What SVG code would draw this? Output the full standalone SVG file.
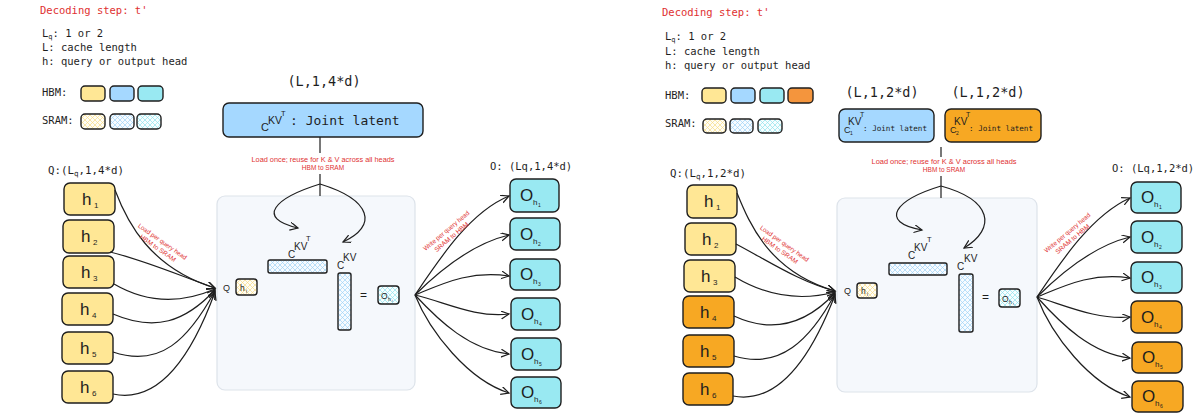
<svg xmlns="http://www.w3.org/2000/svg" width="1200" height="416" viewBox="0 0 1200 416">
<style>
.mono{font-family:"DejaVu Sans Mono","Liberation Mono",monospace;fill:#1e1e1e}
.red{fill:#e03131}
.hand{font-family:"Liberation Sans",Arial,sans-serif;fill:#e03131;font-size:6.5px}
.lbl{font-family:"Liberation Sans",Arial,sans-serif;fill:#1e1e1e}
.node{stroke:#1e1e1e;stroke-width:1.4}
.yel{fill:#ffe795}
.org{fill:#f7a823}
.blu{fill:#a5d8ff}
.cya{fill:#99e9f2}
.conn path{fill:none;stroke:#1e1e1e;stroke-width:1.2}
.cont{fill:#f5f8fc;stroke:#dde3ea;stroke-width:1.2}
</style>
<defs>
<pattern id="hY" patternUnits="userSpaceOnUse" width="5" height="5"><rect width="5" height="5" fill="#fffdf5"/><path d="M0,0L5,5M5,0L0,5" stroke="#f6dc86" stroke-width="0.7"/></pattern>
<pattern id="hB" patternUnits="userSpaceOnUse" width="5" height="5"><rect width="5" height="5" fill="#f7fbff"/><path d="M0,0L5,5M5,0L0,5" stroke="#9ed2f7" stroke-width="0.7"/></pattern>
<pattern id="hC" patternUnits="userSpaceOnUse" width="5" height="5"><rect width="5" height="5" fill="#f7feff"/><path d="M0,0L5,5M5,0L0,5" stroke="#8fe3ec" stroke-width="0.7"/></pattern>
<marker id="arr" markerUnits="userSpaceOnUse" markerWidth="12" markerHeight="12" refX="8" refY="4" orient="auto"><path d="M0,0L8,4L0,8" fill="none" stroke="#1e1e1e" stroke-width="1.2"/></marker>
</defs>
<rect width="1200" height="416" fill="#ffffff"/>

<!-- ============ LEFT PANEL ============ -->
<g id="left-legend">
<text class="mono red" x="40" y="14" font-size="10.5">Decoding step: t'</text>
<text class="mono" x="42" y="37" font-size="10.5">L<tspan font-size="7" dy="2">q</tspan><tspan dy="-2">: 1 or 2</tspan></text>
<text class="mono" x="42" y="51" font-size="10.5">L: cache length</text>
<text class="mono" x="42" y="65" font-size="10.5">h: query or output head</text>
<text class="mono" x="42" y="96" font-size="10.5">HBM:</text>
<text class="mono" x="42" y="124" font-size="10.5">SRAM:</text>
<rect class="node yel" x="81" y="86" width="24" height="15" rx="4"/>
<rect class="node blu" x="110" y="86" width="24" height="15" rx="4"/>
<rect class="node cya" x="138" y="86" width="25" height="15" rx="4"/>
<rect class="node" fill="url(#hY)" x="81" y="114" width="24" height="15" rx="4"/>
<rect class="node" fill="url(#hB)" x="110" y="114" width="24" height="15" rx="4"/>
<rect class="node" fill="url(#hC)" x="137" y="114" width="24" height="15" rx="4"/>
</g>

<g id="left-latent">
<text class="mono" x="324" y="86" font-size="13.5" text-anchor="middle">(L,1,4*d)</text>
<rect class="node blu" x="223" y="103" width="200" height="34" rx="6"/>
<text class="lbl" x="261" y="131" font-size="11">C</text>
<text class="lbl" x="268" y="124" font-size="10.5">KV</text>
<text class="lbl" x="281" y="116" font-size="7.5">T</text>
<text class="mono" x="290" y="125" font-size="13">: Joint latent</text>
</g>

<g id="left-Q-label"><text class="mono" x="48" y="174" font-size="10.8">Q:(L<tspan font-size="7.5" dy="2">q</tspan><tspan dy="-2">,1,4*d)</tspan></text></g>
<g id="left-h1"><rect class="node yel" x="64" y="183" width="51" height="32" rx="6"/><text class="lbl" x="82" y="205" font-size="17">h</text><text class="lbl" x="94" y="208" font-size="8">1</text></g>
<g id="left-h2"><rect class="node yel" x="63" y="220" width="51" height="33" rx="6"/><text class="lbl" x="81" y="242" font-size="17">h</text><text class="lbl" x="93" y="245" font-size="8">2</text></g>
<g id="left-h3"><rect class="node yel" x="63" y="256" width="51" height="32" rx="6"/><text class="lbl" x="81" y="278" font-size="17">h</text><text class="lbl" x="93" y="281" font-size="8">3</text></g>
<g id="left-h4"><rect class="node yel" x="62" y="293" width="51" height="32" rx="6"/><text class="lbl" x="80" y="315" font-size="17">h</text><text class="lbl" x="92" y="318" font-size="8">4</text></g>
<g id="left-h5"><rect class="node yel" x="62" y="332" width="51" height="32" rx="6"/><text class="lbl" x="80" y="354" font-size="17">h</text><text class="lbl" x="92" y="357" font-size="8">5</text></g>
<g id="left-h6"><rect class="node yel" x="62" y="371" width="51" height="32" rx="6"/><text class="lbl" x="80" y="393" font-size="17">h</text><text class="lbl" x="92" y="396" font-size="8">6</text></g>

<g id="left-sram">
<rect class="cont" x="217" y="196" width="198" height="194" rx="8"/>
<text class="lbl" x="288" y="258" font-size="10">C</text>
<text class="lbl" x="294" y="250" font-size="10">KV</text>
<text class="lbl" x="306" y="241" font-size="7.5">T</text>
<rect class="node" fill="url(#hB)" x="268" y="260" width="59" height="13" rx="2"/>
<text class="lbl" x="337" y="269" font-size="10">C</text>
<text class="lbl" x="343" y="261" font-size="10">KV</text>
<rect class="node" fill="url(#hB)" x="338" y="273" width="13" height="57" rx="2"/>
<text class="lbl" x="223" y="291" font-size="9">Q</text>
<rect class="node" fill="url(#hY)" x="236" y="279" width="21" height="16" rx="3"/>
<text class="lbl" x="240" y="291" font-size="8.5">h</text><text class="lbl" x="246" y="293" font-size="5">i</text>
<text class="lbl" x="360" y="299" font-size="12">=</text>
<rect class="node" fill="url(#hC)" x="378" y="286" width="21" height="18" rx="3"/>
<text class="lbl" x="381" y="299" font-size="8.5">O</text><text class="lbl" x="388" y="301" font-size="5">h</text><text class="lbl" x="392" y="302" font-size="3.5">i</text>
</g>

<g id="left-O-label"><text class="mono" x="490" y="170" font-size="10.5">O: (Lq,1,4*d)</text></g>
<g id="left-o1"><rect class="node cya" x="510" y="179" width="49" height="33" rx="6"/><text class="lbl" x="520" y="201" font-size="17">O</text><text class="lbl" x="533" y="205" font-size="8">h</text><text class="lbl" x="538" y="207" font-size="5">1</text></g>
<g id="left-o2"><rect class="node cya" x="510" y="218" width="50" height="32" rx="6"/><text class="lbl" x="520" y="240" font-size="17">O</text><text class="lbl" x="533" y="244" font-size="8">h</text><text class="lbl" x="538" y="246" font-size="5">2</text></g>
<g id="left-o3"><rect class="node cya" x="510" y="259" width="50" height="31" rx="6"/><text class="lbl" x="520" y="280" font-size="17">O</text><text class="lbl" x="533" y="284" font-size="8">h</text><text class="lbl" x="538" y="286" font-size="5">3</text></g>
<g id="left-o4"><rect class="node cya" x="511" y="298" width="49" height="32" rx="6"/><text class="lbl" x="521" y="320" font-size="17">O</text><text class="lbl" x="534" y="324" font-size="8">h</text><text class="lbl" x="539" y="326" font-size="5">4</text></g>
<g id="left-o5"><rect class="node cya" x="511" y="338" width="50" height="32" rx="6"/><text class="lbl" x="521" y="360" font-size="17">O</text><text class="lbl" x="534" y="364" font-size="8">h</text><text class="lbl" x="539" y="366" font-size="5">5</text></g>
<g id="left-o6"><rect class="node cya" x="511" y="377" width="50" height="31" rx="6"/><text class="lbl" x="521" y="398" font-size="17">O</text><text class="lbl" x="534" y="402" font-size="8">h</text><text class="lbl" x="539" y="404" font-size="5">6</text></g>

<g id="left-connectors" class="conn">
<path d="M320,137L320,153"/>
<path d="M320,174L320,196"/>
<path d="M320,184C275,198 255,218 298,228" marker-end="url(#arr)"/>
<path d="M320,184C372,200 378,226 343,242" marker-end="url(#arr)"/>
<path d="M115,190C127,222 150,268 215,288" marker-end="url(#arr)"/>
<path d="M110,252C150,262 180,276 215,288" marker-end="url(#arr)"/>
<path d="M114,284C150,305 185,302 215,289" marker-end="url(#arr)"/>
<path d="M113,314C155,332 185,322 215,290" marker-end="url(#arr)"/>
<path d="M113,352C160,368 188,340 215,291" marker-end="url(#arr)"/>
<path d="M113,394C160,404 192,355 215,292" marker-end="url(#arr)"/>
<path d="M415,295C440,258 470,212 509,196" marker-end="url(#arr)"/>
<path d="M415,295C445,265 475,243 509,235" marker-end="url(#arr)"/>
<path d="M415,295C442,284 470,270 509,276" marker-end="url(#arr)"/>
<path d="M415,295C445,302 475,318 509,314" marker-end="url(#arr)"/>
<path d="M415,295C440,322 470,350 509,354" marker-end="url(#arr)"/>
<path d="M415,295C430,332 468,380 509,393" marker-end="url(#arr)"/>
</g>
<g id="left-annotations">
<text class="hand" x="323" y="162" text-anchor="middle" textLength="143" lengthAdjust="spacingAndGlyphs">Load once; reuse for K &amp; V across all heads</text>
<text class="hand" x="323" y="170" text-anchor="middle">HBM to SRAM</text>
<g transform="translate(160,245) rotate(35)"><text class="hand" x="0" y="-2" text-anchor="middle" textLength="58" lengthAdjust="spacingAndGlyphs">Load per query head</text><text class="hand" x="0" y="6" text-anchor="middle">HBM to SRAM</text></g>
<g transform="translate(449,234) rotate(-40)"><text class="hand" x="0" y="-2" text-anchor="middle" textLength="58" lengthAdjust="spacingAndGlyphs">Write per query head</text><text class="hand" x="0" y="6" text-anchor="middle">SRAM to HBM</text></g>
</g>

<!-- ============ RIGHT PANEL ============ -->
<g id="right-legend">
<text class="mono red" x="662" y="16" font-size="10.5">Decoding step: t'</text>
<text class="mono" x="665" y="40" font-size="10.5">L<tspan font-size="7" dy="2">q</tspan><tspan dy="-2">: 1 or 2</tspan></text>
<text class="mono" x="665" y="55" font-size="10.5">L: cache length</text>
<text class="mono" x="665" y="69" font-size="10.5">h: query or output head</text>
<text class="mono" x="665" y="99" font-size="10.5">HBM:</text>
<text class="mono" x="665" y="127" font-size="10.5">SRAM:</text>
<rect class="node yel" x="702" y="88" width="24" height="15" rx="4"/>
<rect class="node blu" x="731" y="88" width="24" height="15" rx="4"/>
<rect class="node cya" x="760" y="88" width="24" height="15" rx="4"/>
<rect class="node" fill="#f4953d" x="788" y="88" width="25" height="15" rx="4"/>
<rect class="node" fill="url(#hY)" x="703" y="119" width="23" height="14" rx="4"/>
<rect class="node" fill="url(#hB)" x="730" y="119" width="23" height="14" rx="4"/>
<rect class="node" fill="url(#hC)" x="758" y="119" width="24" height="14" rx="4"/>
</g>

<g id="right-latent1">
<text class="mono" x="882" y="97" font-size="13.5" text-anchor="middle">(L,1,2*d)</text>
<rect class="node blu" x="839" y="109" width="95" height="33" rx="6"/>
<text class="lbl" x="844" y="133" font-size="9">C</text><text class="lbl" x="850" y="135" font-size="5">1</text>
<text class="lbl" x="848" y="125" font-size="10">KV</text>
<text class="lbl" x="860" y="117" font-size="7">T</text>
<text class="mono" x="863" y="131" font-size="7.6">: Joint latent</text>
</g>
<g id="right-latent2">
<text class="mono" x="988" y="97" font-size="13.5" text-anchor="middle">(L,1,2*d)</text>
<rect class="node org" x="945" y="109" width="96" height="33" rx="6"/>
<text class="lbl" x="950" y="133" font-size="9">C</text><text class="lbl" x="956" y="135" font-size="5">2</text>
<text class="lbl" x="954" y="125" font-size="10">KV</text>
<text class="lbl" x="966" y="117" font-size="7">T</text>
<text class="mono" x="969" y="131" font-size="7.6">: Joint latent</text>
</g>

<g id="right-Q-label"><text class="mono" x="670" y="177" font-size="10.8">Q:(L<tspan font-size="7.5" dy="2">q</tspan><tspan dy="-2">,1,2*d)</tspan></text></g>
<g id="right-h1"><rect class="node yel" x="687" y="185" width="50" height="33" rx="6"/><text class="lbl" x="704" y="207" font-size="17">h</text><text class="lbl" x="716" y="210" font-size="8">1</text></g>
<g id="right-h2"><rect class="node yel" x="685" y="223" width="51" height="32" rx="6"/><text class="lbl" x="702" y="245" font-size="17">h</text><text class="lbl" x="714" y="248" font-size="8">2</text></g>
<g id="right-h3"><rect class="node yel" x="684" y="260" width="51" height="32" rx="6"/><text class="lbl" x="701" y="282" font-size="17">h</text><text class="lbl" x="713" y="285" font-size="8">3</text></g>
<g id="right-h4"><rect class="node org" x="683" y="296" width="51" height="32" rx="6"/><text class="lbl" x="700" y="318" font-size="17">h</text><text class="lbl" x="712" y="321" font-size="8">4</text></g>
<g id="right-h5"><rect class="node org" x="683" y="335" width="51" height="32" rx="6"/><text class="lbl" x="700" y="357" font-size="17">h</text><text class="lbl" x="712" y="360" font-size="8">5</text></g>
<g id="right-h6"><rect class="node org" x="683" y="373" width="50" height="32" rx="6"/><text class="lbl" x="700" y="395" font-size="17">h</text><text class="lbl" x="712" y="398" font-size="8">6</text></g>

<g id="right-sram">
<rect class="cont" x="837" y="198" width="200" height="194" rx="8"/>
<text class="lbl" x="908" y="259" font-size="10">C</text>
<text class="lbl" x="914" y="251" font-size="10">KV</text>
<text class="lbl" x="927" y="242" font-size="7.5">T</text>
<rect class="node" fill="url(#hB)" x="889" y="263" width="58" height="12" rx="2"/>
<text class="lbl" x="957" y="270" font-size="10">C</text>
<text class="lbl" x="964" y="262" font-size="10">KV</text>
<rect class="node" fill="url(#hB)" x="959" y="274" width="14" height="58" rx="2"/>
<text class="lbl" x="844" y="294" font-size="9">Q</text>
<rect class="node" fill="url(#hY)" x="857" y="283" width="20" height="15" rx="3"/>
<text class="lbl" x="861" y="294" font-size="8.5">h</text><text class="lbl" x="867" y="296" font-size="5">i</text>
<text class="lbl" x="982" y="301" font-size="12">=</text>
<rect class="node" fill="url(#hC)" x="999" y="289" width="21" height="18" rx="3"/>
<text class="lbl" x="1002" y="302" font-size="8.5">O</text><text class="lbl" x="1009" y="304" font-size="5">h</text><text class="lbl" x="1013" y="305" font-size="3.5">i</text>
</g>

<g id="right-O-label"><text class="mono" x="1112" y="172" font-size="10.5">O: (Lq,1,2*d)</text></g>
<g id="right-o1"><rect class="node cya" x="1131" y="182" width="50" height="31" rx="6"/><text class="lbl" x="1141" y="203" font-size="17">O</text><text class="lbl" x="1154" y="207" font-size="8">h</text><text class="lbl" x="1159" y="209" font-size="5">1</text></g>
<g id="right-o2"><rect class="node cya" x="1131" y="221" width="51" height="32" rx="6"/><text class="lbl" x="1141" y="243" font-size="17">O</text><text class="lbl" x="1154" y="247" font-size="8">h</text><text class="lbl" x="1159" y="249" font-size="5">2</text></g>
<g id="right-o3"><rect class="node cya" x="1131" y="262" width="51" height="31" rx="6"/><text class="lbl" x="1141" y="283" font-size="17">O</text><text class="lbl" x="1154" y="287" font-size="8">h</text><text class="lbl" x="1159" y="289" font-size="5">3</text></g>
<g id="right-o4"><rect class="node org" x="1131" y="301" width="51" height="32" rx="6"/><text class="lbl" x="1141" y="323" font-size="17">O</text><text class="lbl" x="1154" y="327" font-size="8">h</text><text class="lbl" x="1159" y="329" font-size="5">4</text></g>
<g id="right-o5"><rect class="node org" x="1132" y="342" width="50" height="31" rx="6"/><text class="lbl" x="1142" y="363" font-size="17">O</text><text class="lbl" x="1155" y="367" font-size="8">h</text><text class="lbl" x="1160" y="369" font-size="5">5</text></g>
<g id="right-o6"><rect class="node org" x="1132" y="381" width="51" height="31" rx="6"/><text class="lbl" x="1142" y="402" font-size="17">O</text><text class="lbl" x="1155" y="406" font-size="8">h</text><text class="lbl" x="1160" y="408" font-size="5">6</text></g>

<g id="right-connectors" class="conn">
<path d="M941,147L941,157"/>
<path d="M941,176L941,198"/>
<path d="M941,186C895,200 878,222 922,230" marker-end="url(#arr)"/>
<path d="M941,186C992,200 997,228 964,248" marker-end="url(#arr)"/>
<path d="M737,193C750,225 770,272 835,291" marker-end="url(#arr)"/>
<path d="M736,244C770,262 800,282 835,291" marker-end="url(#arr)"/>
<path d="M735,277C770,298 805,300 835,292" marker-end="url(#arr)"/>
<path d="M734,316C775,335 808,322 835,293" marker-end="url(#arr)"/>
<path d="M734,356C780,370 810,340 835,294" marker-end="url(#arr)"/>
<path d="M733,396C780,405 812,355 835,295" marker-end="url(#arr)"/>
<path d="M1037,297C1062,260 1092,215 1130,198" marker-end="url(#arr)"/>
<path d="M1037,297C1067,267 1097,245 1130,237" marker-end="url(#arr)"/>
<path d="M1037,297C1064,286 1092,272 1130,278" marker-end="url(#arr)"/>
<path d="M1037,297C1067,306 1097,320 1130,317" marker-end="url(#arr)"/>
<path d="M1037,297C1062,325 1092,354 1130,358" marker-end="url(#arr)"/>
<path d="M1037,297C1052,336 1090,384 1130,397" marker-end="url(#arr)"/>
</g>
<g id="right-annotations">
<text class="hand" x="944" y="164" text-anchor="middle" textLength="145" lengthAdjust="spacingAndGlyphs">Load once; reuse for K &amp; V across all heads</text>
<text class="hand" x="944" y="172" text-anchor="middle">HBM to SRAM</text>
<g transform="translate(782,247) rotate(35)"><text class="hand" x="0" y="-2" text-anchor="middle" textLength="58" lengthAdjust="spacingAndGlyphs">Load per query head</text><text class="hand" x="0" y="6" text-anchor="middle">HBM to SRAM</text></g>
<g transform="translate(1070,236) rotate(-40)"><text class="hand" x="0" y="-2" text-anchor="middle" textLength="58" lengthAdjust="spacingAndGlyphs">Write per query head</text><text class="hand" x="0" y="6" text-anchor="middle">SRAM to HBM</text></g>
</g>
</svg>
